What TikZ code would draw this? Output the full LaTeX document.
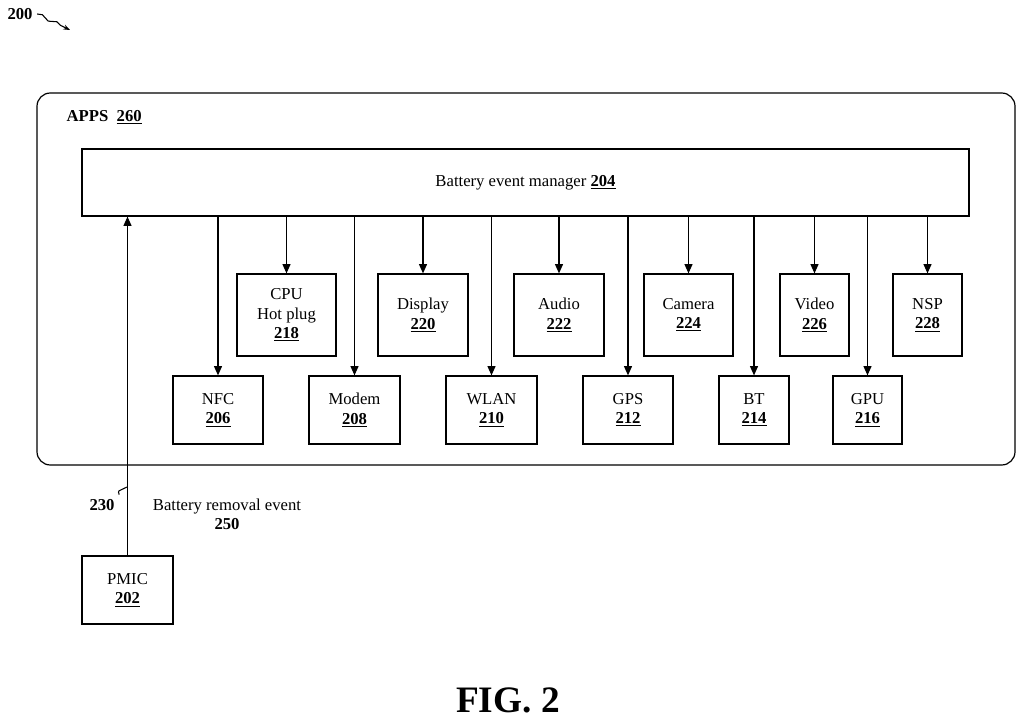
\documentclass[tikz,border=0pt]{standalone}
\usepackage{fontspec}
\setmainfont{Liberation Serif}
\usetikzlibrary{arrows.meta,decorations.pathmorphing}
\newcommand{\num}[1]{\textbf{\underline{#1}}}
\begin{document}
\begin{tikzpicture}[x=0.75pt,y=-0.75pt,
  font=\fontsize{12.5}{14.5}\selectfont,
  box/.style={draw,line width=0.9pt,align=center,inner sep=0pt},
  arr/.style={line width=0.9pt,-{Triangle[length=7pt,width=6pt]}}]
\useasboundingbox (0,0) rectangle (1024,723);
\newcommand{\bx}[6]{\node[box,minimum width=#4*0.75pt,minimum height=#5*0.75pt] (#1) at (#2,#3) {#6};}
% title ref
\node[font=\fontsize{12.5}{14}\selectfont\bfseries] (l200) at (20,14) {200};
\coordinate (a200) at (70,30);
\draw[line width=0.8pt,-{Stealth[length=5pt]},decorate,decoration={snake,amplitude=1.2pt,segment length=12pt,post length=6pt}] (l200.east) -- (a200);
% APPS
\draw[line width=0.9pt,rounded corners=10pt] (37,93) rectangle (1015,465);
\node[anchor=west] (apps) at (62,117) {\textbf{APPS} \ \num{260}};
\bx{bem}{525.5}{182.5}{887}{67}{Battery event manager \num{204}}
% top row
\bx{cpu}{286.5}{315}{99}{82}{CPU\\Hot plug\\\num{218}}
\bx{disp}{423}{315}{90}{82}{Display\\\num{220}}
\bx{audio}{559}{315}{90}{82}{Audio\\\num{222}}
\bx{cam}{688.5}{315}{89}{82}{Camera\\\num{224}}
\bx{video}{814.5}{315}{69}{82}{Video\\\num{226}}
\bx{nsp}{927.5}{315}{69}{82}{NSP\\\num{228}}
% bottom row
\bx{nfc}{218}{410}{90}{68}{NFC\\\num{206}}
\bx{modem}{354.5}{410}{91}{68}{Modem\\\num{208}}
\bx{wlan}{491.5}{410}{91}{68}{WLAN\\\num{210}}
\bx{gps}{628}{410}{90}{68}{GPS\\\num{212}}
\bx{bt}{754}{410}{70}{68}{BT\\\num{214}}
\bx{gpu}{867.5}{410}{69}{68}{GPU\\\num{216}}
\foreach \n in {cpu,disp,audio,cam,video,nsp,nfc,modem,wlan,gps,bt,gpu}
  \draw[arr] (bem.south -| \n.north) -- (\n.north);
% PMIC
\bx{pmic}{127.5}{590}{91}{68}{PMIC\\\num{202}}
\draw[arr] (pmic.north) -- (bem.south -| pmic.north);
\node (l230) at (102,505) {\textbf{230}};
\coordinate (c230) at (127,487);
\draw[line width=0.8pt] (l230.north east) .. controls (118,490) and (117,492) .. (c230);
\node[align=center] (ev) at (227,514) {Battery removal event\\\textbf{250}};
\node[font=\fontsize{28}{30}\selectfont\bfseries] (fig) at (508,700) {FIG. 2};
\end{tikzpicture}
\end{document}
